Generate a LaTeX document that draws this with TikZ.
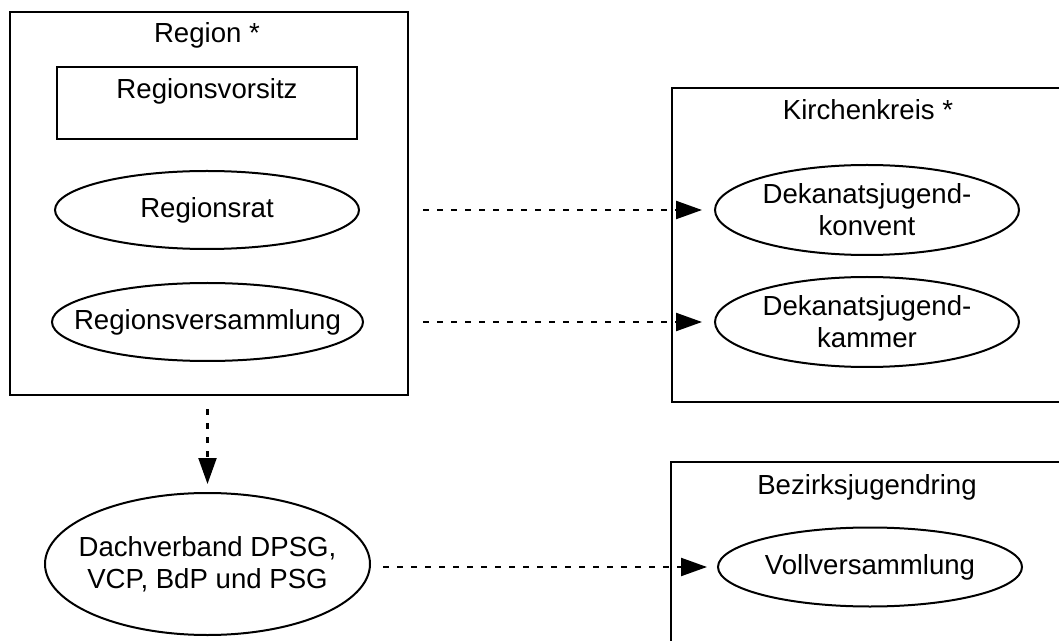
\documentclass[tikz,border=0pt]{standalone}
\usepackage{fontspec}
\setmainfont{Liberation Sans}
\usetikzlibrary{shapes.geometric, arrows.meta}

\begin{document}
\begin{tikzpicture}[x = 0.5pt, y = -0.5pt]
\tikzstyle{every node}=[font = \fontsize{13.8}{16}\selectfont]
\tikzstyle{BoxStyle}=[shape = rectangle,
                      line width = 1pt,
                      inner sep = 0pt,
                      draw]
\tikzstyle{OvalStyle}=[shape = ellipse,
                       line width = 1pt,
                       inner sep = 0pt,
                       draw]
\tikzstyle{TitleStyle}=[inner sep = 0pt]
\tikzstyle{LinkStyle}=[line width = 1.1pt,
                       dash pattern = on 3pt off 4pt,
                       -{Triangle[length = 13pt, width = 9pt]}]
\useasboundingbox (0,0) rectangle (1059,641);
\clip (0,0) rectangle (1059,641);
\node[BoxStyle, minimum width = 199pt, minimum height = 191.5pt] (region) at (209,203.5) {};
\node[TitleStyle] (regiontitle) at (207,35) {Region *};
\node[BoxStyle, minimum width = 150pt, minimum height = 36pt,
      label = {[yshift = 6pt]center:Regionsvorsitz}] (vorsitz) at (207,103) {};
\node[OvalStyle, minimum width = 152pt, minimum height = 39pt,
      label = {center:Regionsrat}] (rat) at (207,210) {};
\node[OvalStyle, minimum width = 155.5pt, minimum height = 39pt,
      label = {center:Regionsversammlung}] (versammlung) at (207.5,322) {};
\node[BoxStyle, minimum width = 204pt, minimum height = 157pt] (kreis) at (876,245) {};
\node[TitleStyle] (kreistitle) at (868,110) {Kirchenkreis *};
\node[OvalStyle, minimum width = 152pt, minimum height = 45pt,
      label = {[align = center]center:Dekanatsjugend-\\konvent}] (konvent) at (867,210) {};
\node[OvalStyle, minimum width = 152pt, minimum height = 45pt,
      label = {[align = center]center:Dekanatsjugend-\\kammer}] (kammer) at (867,322) {};
\node[OvalStyle, minimum width = 162.5pt, minimum height = 71pt,
      label = {[align = center]center:Dachverband DPSG,\\VCP, BdP und PSG}] (dach) at (207.5,564) {};
\node[BoxStyle, minimum width = 204.5pt, minimum height = 119pt] (ring) at (875.5,581) {};
\node[TitleStyle] (ringtitle) at (867,487) {Bezirksjugendring};
\node[OvalStyle, minimum width = 152pt, minimum height = 39.5pt,
      label = {center:Vollversammlung}] (voll) at (870,567) {};
\draw[LinkStyle, shorten < = 31.5pt, shorten > = 6pt] (rat) -- (konvent);
\draw[LinkStyle, shorten < = 29.5pt, shorten > = 6pt] (versammlung) -- (kammer);
\draw[LinkStyle, shorten < = 6.5pt, shorten > = 4pt] (region.south -| dach.north) -- (dach.north);
\draw[LinkStyle, shorten < = 6pt, shorten > = 5pt] (dach.east |- voll.west) -- (voll.west);
\end{tikzpicture}
\end{document}
